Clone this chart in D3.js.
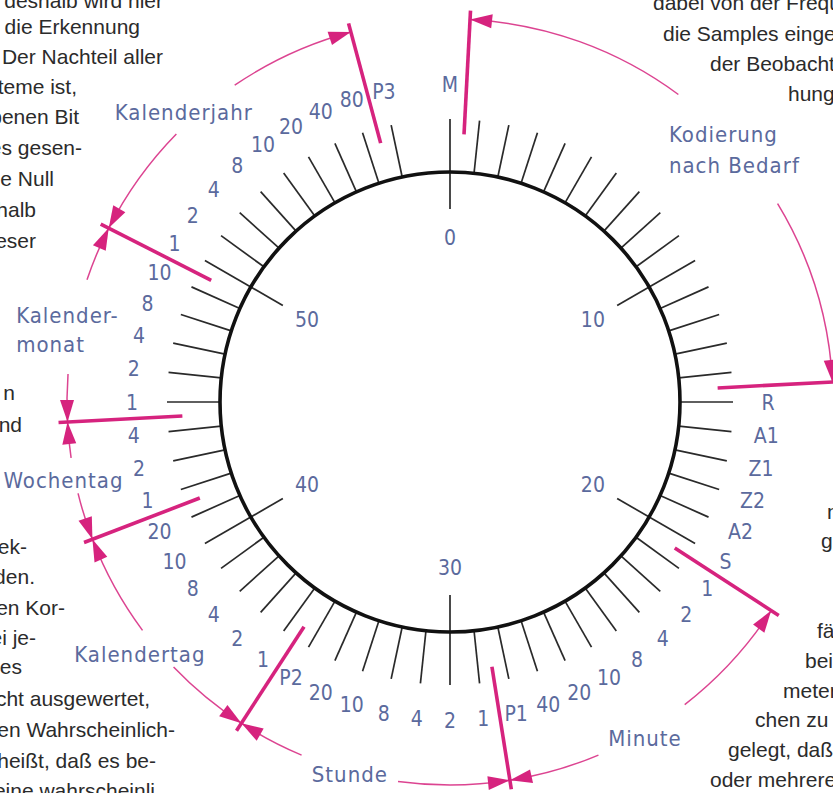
<!DOCTYPE html>
<html>
<head>
<meta charset="utf-8">
<script src="https://cdn.jsdelivr.net/npm/d3@7.9.0/dist/d3.min.js"></script>
<style>
  body { margin: 0; background: #fff; }
  svg { display: block; }
  .prose { font-family: "Liberation Sans", Arial, sans-serif; font-size: 21px; fill: #2b2b2b; }
  .lab { font-family: "DejaVu Sans Condensed", "Liberation Sans Narrow", sans-serif; font-size: 21px; fill: #5b6a9d; }
  .name { font-size: 22px; letter-spacing: 1px; }
</style>
</head>
<body>
<svg id="chart" width="833" height="793"></svg>
<script>
// ---------- Data ----------
const bitSeconds = [0, 15, 16, 17, 18, 19, 20,
  21, 22, 23, 24, 25, 26, 27, 28,
  29, 30, 31, 32, 33, 34, 35,
  36, 37, 38, 39, 40, 41,
  42, 43, 44,
  45, 46, 47, 48, 49,
  50, 51, 52, 53, 54, 55, 56, 57, 58];
const bitLabels = ["M", "R", "A1", "Z1", "Z2", "A2", "S",
  "1", "2", "4", "8", "10", "20", "40", "P1",
  "1", "2", "4", "8", "10", "20", "P2",
  "1", "2", "4", "8", "10", "20",
  "1", "2", "4",
  "1", "2", "4", "8", "10",
  "1", "2", "4", "8", "10", "20", "40", "80", "P3"];

const majorSeconds = [0, 10, 20, 30, 40, 50];
const majorLabels = ["0", "10", "20", "30", "40", "50"];
const missingSecond = 59;   // no pulse in second 59

const groupNames = [["Kodierung", "nach Bedarf"], ["Minute"], ["Stunde"], ["Kalendertag"],
  ["Wochentag"], ["Kalender-", "monat"], ["Kalenderjahr"]];
const groupFrom = [0.5, 20.5, 28.5, 35.5, 41.5, 44.5, 49.5];
const groupTo = [14.5, 28.5, 35.5, 41.5, 44.5, 49.5, 57.5];
const dividers = [0.5, 14.5, 20.5, 28.5, 35.5, 41.5, 44.5, 49.5, 57.5];

// fragments of the page's running text that show at the picture edges
const proseLeft = ["deshalb wird hier", "die Erkennung", "Der Nachteil aller", "Systeme ist,",
  "gegebenen Bit", "des gesen-", "eine Null", "innerhalb", "dieser", "n", "und", "Spek-",
  "werden.", "einen Kor-", "bei je-", "des", "nicht ausgewertet,", "einen Wahrscheinlich-",
  "Das heißt, daß es be-", "eine wahrscheinli"];
const proseRight = ["dabei von der Frequenz", "die Samples eingehen", "der Beobachtung", "hungen",
  "n", "g", "fähig", "bei", "meter", "chen zu", "gelegt, daß", "oder mehrere"];

// ---------- Layout ----------
const cx = 450, cy = 402;
const R = 230, tickOut = 283, majorIn = 193;
const innerLabelR = 165, bitLabelR = 318;
const arcR = 383, divIn = 268, divOut = 392;
const arrowLen = 22, arrowHalf = 7;

// gaps in the group arcs where the names sit (seconds), and name anchors (second, radius)
const nameGap = [[6.1, 9.8], [23.7, 26.2], [31.3, 33.8], [37.7, 38.9], [42.7, 43.6], [45.7, 48.1], [52.4, 54.3]];
const nameAnchor = [[6.68, 340, "start"], [25.07, 395, "middle"], [32.46, 393, "middle"],
  [38.33, 405, "middle"], [42.9, 396, "middle"], [46.72, 441, "start"], [52.78, 388, "middle"]];
const nameLead = [31, 0, 0, 0, 0, 29, 0];

const proseLeftEnd = [163, 140, 163, 77, 79, 82, 54, 36, 36, 15, 22, 27, 35, 65, 36, 22, 150, 175, 156, 155];
const proseLeftY = [8, 34, 64, 94, 124, 155, 186, 217, 248, 400, 432, 554, 584, 615, 645, 674, 706, 737, 768, 798];
const proseRightX = [653, 663, 710, 788, 827, 821, 817, 805, 783, 755, 728, 710];
const proseRightY = [10, 41, 71, 101, 519, 548, 638, 668, 698, 727, 757, 787];

const magenta = "#d6237e";

// ---------- Scales ----------
const angle = d3.scaleLinear().domain([0, 60]).range([0, 2 * Math.PI]);
const secPerPx = r => angle.invert(1 / r);   // seconds spanned by 1px of arc at radius r

function pt(s, r) {
  const a = angle(s);
  return [cx + r * Math.sin(a), cy - r * Math.cos(a)];
}

const svg = d3.select("#chart");

// ---------- Ticks & dial ----------
const tickSecs = angle.ticks(60).filter(s => s < 60 && s !== missingSecond);

svg.append("g")
  .selectAll("line")
  .data(tickSecs)
  .join("line")
  .attr("x1", s => pt(s, majorSeconds.includes(s) ? majorIn : R)[0])
  .attr("y1", s => pt(s, majorSeconds.includes(s) ? majorIn : R)[1])
  .attr("x2", s => pt(s, tickOut)[0])
  .attr("y2", s => pt(s, tickOut)[1])
  .attr("stroke", "#2a2a2a")
  .attr("stroke-width", 1.7);

svg.append("circle")
  .attr("cx", cx).attr("cy", cy).attr("r", R)
  .attr("fill", "none")
  .attr("stroke", "#111")
  .attr("stroke-width", 3.6);

svg.append("g")
  .selectAll("text")
  .data(majorSeconds)
  .join("text")
  .attr("class", "lab")
  .attr("x", s => pt(s, innerLabelR)[0])
  .attr("y", s => pt(s, innerLabelR)[1])
  .attr("dy", "0.36em")
  .attr("text-anchor", "middle")
  .text((s, i) => majorLabels[i]);

svg.append("g")
  .selectAll("text")
  .data(bitSeconds)
  .join("text")
  .attr("class", "lab")
  .attr("x", s => pt(s, bitLabelR)[0])
  .attr("y", s => pt(s, bitLabelR)[1])
  .attr("dy", "0.36em")
  .attr("text-anchor", "middle")
  .text((s, i) => bitLabels[i]);

// ---------- Group dividers ----------
svg.append("g")
  .selectAll("line")
  .data(dividers)
  .join("line")
  .attr("x1", s => pt(s, divIn)[0])
  .attr("y1", s => pt(s, divIn)[1])
  .attr("x2", s => pt(s, divOut)[0])
  .attr("y2", s => pt(s, divOut)[1])
  .attr("stroke", magenta)
  .attr("stroke-width", 3.6);

// ---------- Group arcs with name gaps ----------
const segs = groupFrom.flatMap((f, i) => [[f, nameGap[i][0]], [nameGap[i][1], groupTo[i]]]);
const arcGen = d3.arc().innerRadius(arcR).outerRadius(arcR);

svg.append("g")
  .attr("transform", `translate(${cx},${cy})`)
  .selectAll("path")
  .data(segs)
  .join("path")
  .attr("d", d => arcGen({ startAngle: angle(d[0]), endAngle: angle(d[1]) }))
  .attr("fill", "none")
  .attr("stroke", magenta)
  .attr("stroke-width", 1.5)
  .attr("stroke-opacity", 0.85);

// ---------- Arrowheads ----------
const arrows = groupFrom.flatMap((f, i) => [[f, 1], [groupTo[i], -1]]);
svg.append("g")
  .selectAll("path")
  .data(arrows)
  .join("path")
  .attr("d", ([s, dir]) => {
    const b = s + dir * secPerPx(arcR) * arrowLen;
    const p = [pt(s, arcR), pt(b, arcR + arrowHalf), pt(b, arcR - arrowHalf)];
    return "M" + p.map(q => q.join(",")).join("L") + "Z";
  })
  .attr("fill", magenta);

// ---------- Group names ----------
const names = svg.append("g")
  .selectAll("text")
  .data(groupNames)
  .join("text")
  .attr("class", "lab name")
  .attr("text-anchor", (d, i) => nameAnchor[i][2])
  .attr("x", (d, i) => pt(nameAnchor[i][0], nameAnchor[i][1])[0])
  .attr("y", (d, i) => pt(nameAnchor[i][0], nameAnchor[i][1])[1]);

names.each(function (lines, i) {
  const t = d3.select(this);
  const x = t.attr("x");
  lines.forEach((ln, j) => {
    t.append("tspan").attr("x", x).attr("dy", j === 0 ? 0 : nameLead[i]).text(ln);
  });
});

// ---------- Surrounding body text ----------
svg.append("g")
  .selectAll("text")
  .data(proseLeft)
  .join("text")
  .attr("class", "prose")
  .attr("text-anchor", "end")
  .attr("x", (d, i) => proseLeftEnd[i])
  .attr("y", (d, i) => proseLeftY[i])
  .text(d => d);

svg.append("g")
  .selectAll("text")
  .data(proseRight)
  .join("text")
  .attr("class", "prose")
  .attr("x", (d, i) => proseRightX[i])
  .attr("y", (d, i) => proseRightY[i])
  .text(d => d);
</script>
</body>
</html>
